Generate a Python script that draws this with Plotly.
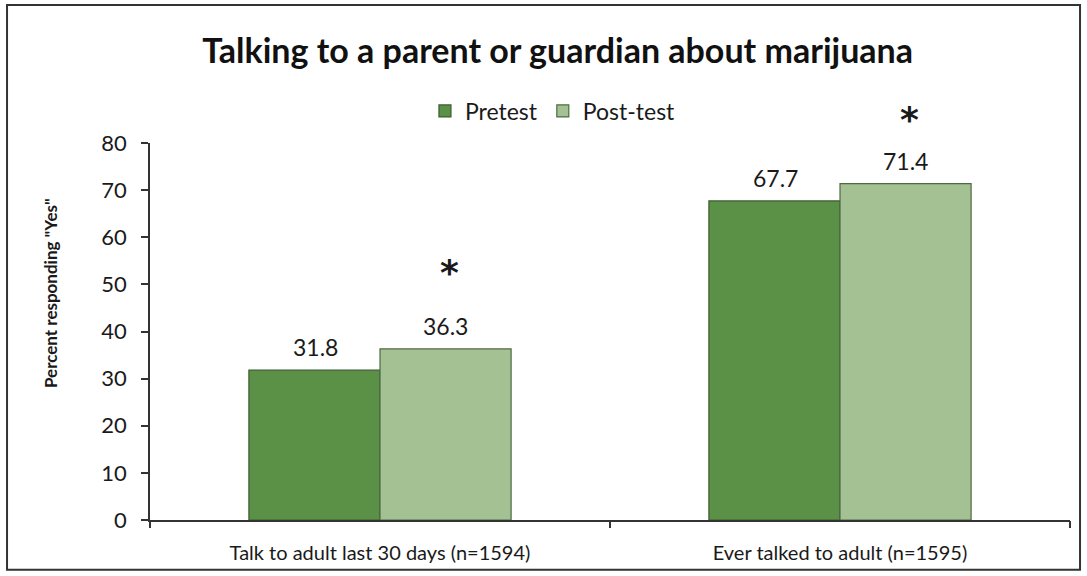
import plotly.graph_objects as go

categories = ["Talk to adult last 30 days (n=1594)", "Ever talked to adult (n=1595)"]
pretest = [31.8, 67.7]
posttest = [36.3, 71.4]
significant_post = [True, True]
y_ticks = [0, 10, 20, 30, 40, 50, 60, 70, 80]

FONT = "Lato"
x_idx = list(range(len(categories)))
BAR_SHIFT = 65  # px offset of each bar centre from its category centre

fig = go.Figure()
fig.add_trace(go.Bar(
    name="Pretest", x=x_idx, y=pretest,
    marker=dict(color="#5a9146", line=dict(color="#3e5a30", width=1.2)),
))
fig.add_trace(go.Bar(
    name="Post-test", x=x_idx, y=posttest,
    marker=dict(color="#a3c193", line=dict(color="#4e6a44", width=1.2)),
))

# value labels
for series, sign in ((pretest, -1), (posttest, 1)):
    for i, v in enumerate(series):
        fig.add_annotation(x=i, y=v, xref="x", yref="y", text=f"{v:.1f}",
                           showarrow=False, xshift=sign * BAR_SHIFT, yshift=23,
                           yanchor="middle",
                           font=dict(size=23, color="#1a1a1a", family=FONT))

# asterisks above post-test bars
star_shift = [76, 64]
for i, (v, sig) in enumerate(zip(posttest, significant_post)):
    if sig:
        fig.add_annotation(x=i, y=v, xref="x", yref="y", text="<b>*</b>",
                           showarrow=False, xshift=BAR_SHIFT + 4, yshift=star_shift[i],
                           font=dict(size=36, color="#1a1a1a", family="DejaVu Sans"))

# y-axis title
fig.add_annotation(x=-0.1087, y=0.602, xref="paper", yref="paper",
                   xanchor="center", yanchor="middle",
                   text="<b>Percent responding \"Yes\"</b>", textangle=-90, showarrow=False,
                   font=dict(size=17, family=FONT, color="#1a1a1a"))

# secondary axis for category boundary ticks
fig.add_trace(go.Scatter(x=[-0.5, 1.5], y=[None, None], xaxis="x2", showlegend=False,
                         hoverinfo="skip"))

fig.update_layout(
    width=1087, height=576,
    margin=dict(l=150, r=17, t=143, b=56),
    paper_bgcolor="white", plot_bgcolor="white",
    barmode="group", bargap=0.43, bargroupgap=0,
    font=dict(family=FONT, color="#1a1a1a"),
    title=dict(text="<b>Talking to a parent or guardian about marijuana</b>",
               x=0.513, xanchor="center", y=0.912, yanchor="middle",
               font=dict(size=34, family=FONT, color="#111")),
    legend=dict(orientation="h", x=0.438, xanchor="center", y=1.085, yanchor="middle",
                font=dict(size=23, family=FONT), itemwidth=30, traceorder="normal",
                bgcolor="rgba(0,0,0,0)"),
    xaxis=dict(range=[-0.5, 1.5], tickvals=x_idx, ticktext=categories,
               showline=True, linecolor="#333", linewidth=1.5, ticks="",
               ticklabelstandoff=14,
               tickfont=dict(size=20, family=FONT), showgrid=False, zeroline=False),
    xaxis2=dict(range=[-0.5, 1.5], overlaying="x", side="bottom", tickvals=[-0.5, 0.5, 1.5],
                ticktext=["", "", ""], ticks="outside", ticklen=7, tickcolor="#333",
                tickwidth=1.5, showline=False, showgrid=False, zeroline=False),
    yaxis=dict(range=[0, 80], tickvals=y_ticks, showline=True, linecolor="#333", linewidth=1.5,
               ticks="outside", ticklen=7, tickcolor="#333", tickwidth=1.5,
               ticklabelstandoff=10,
               tickfont=dict(size=22, family=FONT), showgrid=False, zeroline=False),
    shapes=[dict(type="rect", xref="paper", yref="paper",
                 x0=-0.1554, x1=1.0109, y0=-0.132, y1=1.366,
                 line=dict(color="#333", width=2), fillcolor="rgba(0,0,0,0)")],
)

fig.write_html("out.html")
